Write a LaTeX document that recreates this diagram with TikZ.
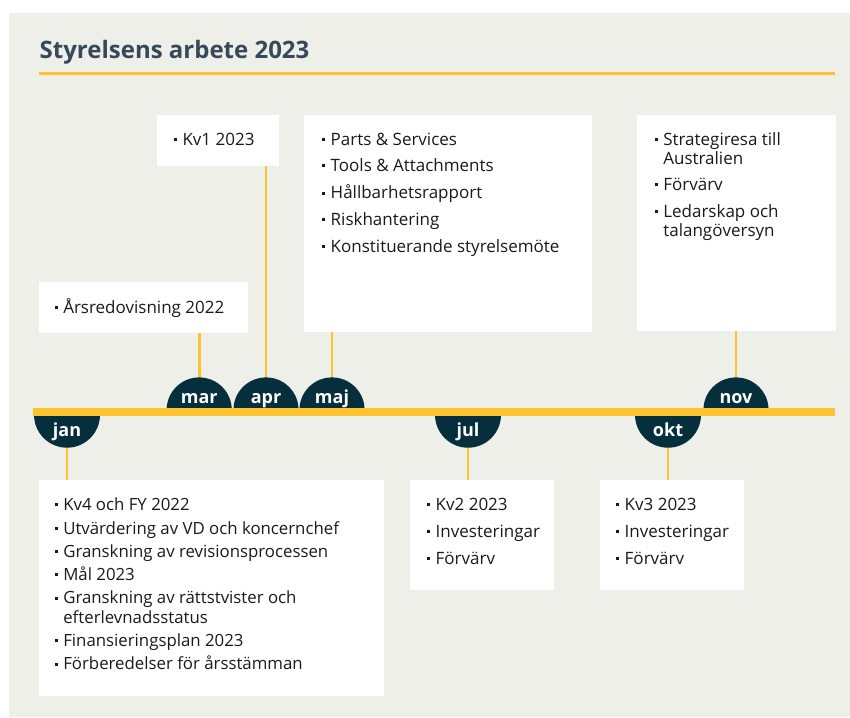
\documentclass[tikz,border=0pt]{standalone}
\usepackage{fontspec}
\setmainfont{Open Sans}
\usepackage{graphicx}
\usetikzlibrary{calc}
\definecolor{bg}{HTML}{EFEFEA}
\definecolor{tl}{HTML}{FDC22E}
\definecolor{navy}{HTML}{062F3E}
\definecolor{ttl}{HTML}{36495B}
\definecolor{txt}{HTML}{1A1A1A}
\newcommand\bul{\makebox[8.7pt][l]{\rule[4.3pt]{3pt}{3pt}}}
\newcommand\itemfont{\fontsize{17}{19}\selectfont}
\newcommand\janfont{\fontsize{16.8}{20}\selectfont}
\tikzset{
  box/.style={fill=white, draw=none, anchor=north west, inner sep=0pt, outer sep=0pt},
  items/.style={anchor=base west, inner sep=0pt, outer sep=0pt, text=txt, font=\itemfont},
  conn/.style={draw=tl, line width=2.8pt},
  mlabel/.style={text=white, font=\fontsize{18}{20}\selectfont\bfseries, anchor=base, inner sep=0pt},
}
\begin{document}
\begin{tikzpicture}[x=1pt,y=-1pt]
\useasboundingbox (0,0) rectangle (850,717);
\fill[bg] (9,13) rectangle (850,717);
% title
\node[anchor=base west, inner sep=0pt, text=ttl, font=\fontsize{24}{28}\selectfont\bfseries] (title) at (39.5,58.5) {Styrelsens arbete 2023};
\coordinate (ulL) at (39,73.5);
\coordinate (ulR) at (835,73.5);
\draw[tl, line width=2.3pt] (ulL) -- (ulR);
% semicircle centres
\coordinate (janC) at (67,414.7);
\coordinate (marC) at (199.2,410);
\coordinate (aprC) at (266,410);
\coordinate (majC) at (332,410);
\coordinate (julC) at (468,414.7);
\coordinate (oktC) at (668,414.7);
\coordinate (novC) at (736,410);
% boxes
\node[box, minimum width=209pt, minimum height=51pt] (bars) at (39,282) {};
\node[box, minimum width=122pt, minimum height=51pt] (bkv1) at (157,115) {};
\node[box, minimum width=288pt, minimum height=217pt] (bmaj) at (304,115) {};
\node[box, minimum width=199pt, minimum height=216pt] (bnov) at (637,115) {};
\node[box, minimum width=345pt, minimum height=216pt] (bjan) at (39,480) {};
\node[box, minimum width=144pt, minimum height=110pt] (bjul) at (410,480) {};
\node[box, minimum width=144pt, minimum height=110pt] (bokt) at (600,480) {};
% connectors
\draw[conn] (bars.south -| marC) -- (marC);
\draw[conn] (bkv1.south -| aprC) -- (aprC);
\draw[conn] (bmaj.south -| majC) -- (majC);
\draw[conn] (bnov.south -| novC) -- (novC);
\draw[conn] (janC) -- (bjan.north -| janC);
\draw[conn] (julC) -- (bjul.north -| julC);
\draw[conn] (oktC) -- (bokt.north -| oktC);
% upper semicircles
\foreach \c in {marC,aprC,majC,novC}{
  \begin{scope}
    \clip ($(\c)+(-40,0)$) rectangle ($(\c)+(40,-40)$);
    \fill[navy] (\c) circle[radius=32.6];
  \end{scope}
}
% lower semicircles
\foreach \c in {janC,julC,oktC}{
  \begin{scope}
    \clip ($(\c)+(-40,0)$) rectangle ($(\c)+(40,40)$);
    \fill[navy] (\c) circle[radius=33];
  \end{scope}
}
% main timeline
\coordinate (tlL) at (33,411.7);
\coordinate (tlR) at (835,411.7);
\draw[tl, line width=7.8pt] (tlL) -- (tlR);
% month labels
\node[mlabel] (mar) at (199.2,403) {mar};
\node[mlabel] (apr) at (266,403) {apr};
\node[mlabel] (maj) at (332,403) {maj};
\node[mlabel] (nov) at (736,403) {nov};
\node[mlabel] (jan) at (67,436) {jan};
\node[mlabel] (jul) at (468,436) {jul};
\node[mlabel] (okt) at (668,436) {okt};
% texts
\node[items] (tars) at (54.6,313.3) {\begin{tabular}[t]{@{}l@{}l@{}}\bul&Årsredovisning 2022\end{tabular}};
\node[items] (tkv1) at (173.8,145) {\begin{tabular}[t]{@{}l@{}l@{}}\bul&Kv1 2023\end{tabular}};
\node[items] (tmaj) at (322,145) {\begin{tabular}[t]{@{}l@{}l@{}}
\bul&Parts \& Services\\[7.7pt]
\bul&Tools \& Attachments\\[7.7pt]
\bul&Hållbarhetsrapport\\[7.7pt]
\bul&Riskhantering\\[7.7pt]
\bul&Konstituerande styrelsemöte
\end{tabular}};
\node[items] (tnov) at (654.6,145) {\begin{tabular}[t]{@{}l@{}l@{}}
\bul&Strategiresa till\\
&Australien\\[7.7pt]
\bul&Förvärv\\[8pt]
\bul&Ledarskap och\\
&talangöversyn
\end{tabular}};
\node[items, font=\janfont] (tjan) at (54.6,510.7) {\begin{tabular}[t]{@{}l@{}l@{}}
\bul&Kv4 och FY 2022\\[3.3pt]
\bul&Utvärdering av VD och koncernchef\\[3.3pt]
\bul&Granskning av revisionsprocessen\\[3.3pt]
\bul&Mål 2023\\[3.3pt]
\bul&Granskning av rättstvister och\\
&efterlevnadsstatus\\[2.7pt]
\bul&Finansieringsplan 2023\\[3.3pt]
\bul&Förberedelser för årsstämman
\end{tabular}};
\node[items] (tjul) at (427,510.7) {\begin{tabular}[t]{@{}l@{}l@{}}
\bul&Kv2 2023\\[8pt]
\bul&Investeringar\\[7.7pt]
\bul&Förvärv
\end{tabular}};
\node[items] (tokt) at (616,510.7) {\begin{tabular}[t]{@{}l@{}l@{}}
\bul&Kv3 2023\\[8pt]
\bul&Investeringar\\[7.7pt]
\bul&Förvärv
\end{tabular}};
\end{tikzpicture}
\end{document}
